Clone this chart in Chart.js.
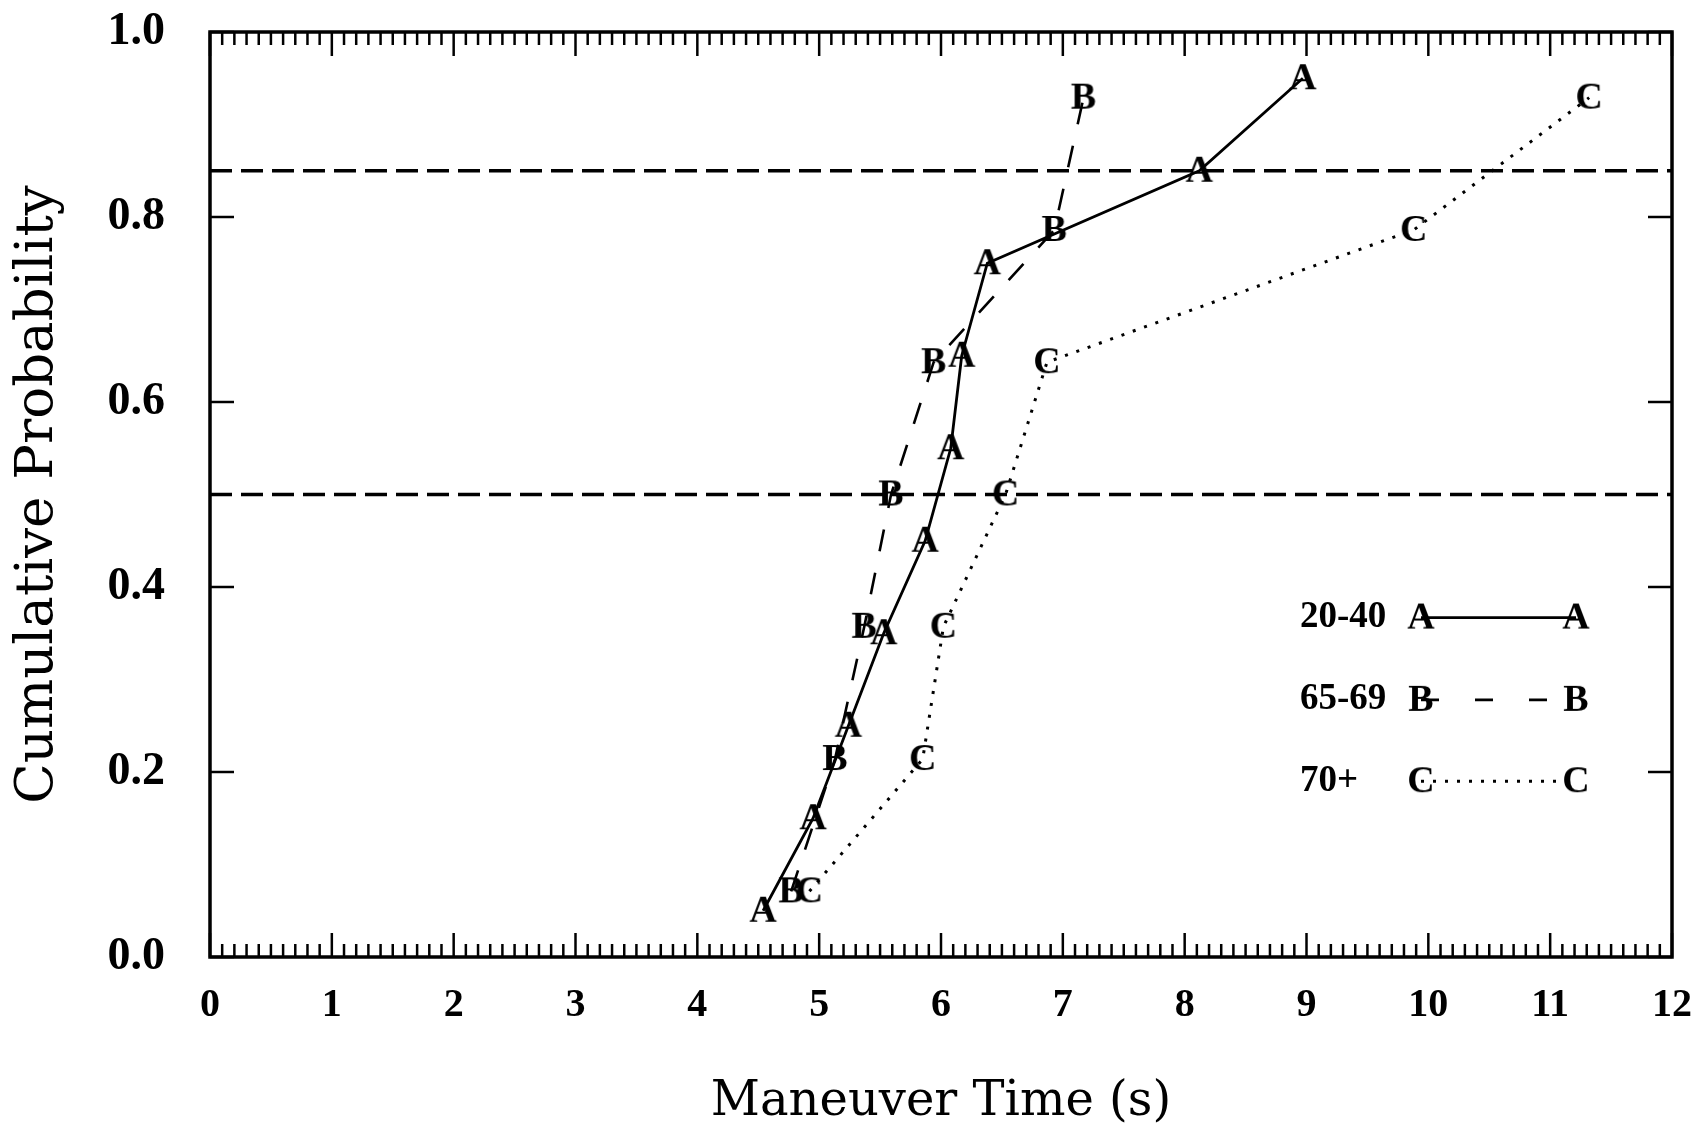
<!DOCTYPE html>
<html>
<head>
<meta charset="utf-8">
<script src="https://cdn.jsdelivr.net/npm/chart.js@4.4.1/dist/chart.umd.min.js"></script>
<style>
html,body{margin:0;padding:0;background:#fff;}
#wrap{width:1703px;height:1131px;position:relative;}
canvas{display:block;}
</style>
</head>
<body>
<div id="wrap"><canvas id="c" width="1703" height="1131"></canvas></div>
<script>
// ---- data ----
const seriesLabels = ['20-40', '65-69', '70+'];
const seriesMarkers = ['A', 'B', 'C'];

const timeA = [4.54, 4.95, 5.24, 5.53, 5.87, 6.08, 6.17, 6.38, 8.12, 8.97];
const probA = [0.05, 0.15, 0.25, 0.35, 0.45, 0.55, 0.65, 0.75, 0.85, 0.95];

const timeB = [4.77, 5.13, 5.37, 5.59, 5.94, 6.93, 7.17];
const probB = [0.071, 0.214, 0.357, 0.5, 0.643, 0.786, 0.929];

const timeC = [4.92, 5.85, 6.02, 6.53, 6.87, 9.88, 11.32];
const probC = [0.071, 0.214, 0.357, 0.5, 0.643, 0.786, 0.929];

const refLevels = [0.5, 0.85];

const xTickValues = [0, 1, 2, 3, 4, 5, 6, 7, 8, 9, 10, 11, 12];
const xTickLabels = ['0', '1', '2', '3', '4', '5', '6', '7', '8', '9', '10', '11', '12'];
const yTickValues = [0, 0.2, 0.4, 0.6, 0.8, 1.0];
const yTickLabels = ['0.0', '0.2', '0.4', '0.6', '0.8', '1.0'];
const xMinorStep = 0.1;

const xTitle = 'Maneuver Time (s)';
const yTitle = 'Cumulative Probability';

// target plot frame (pixels)
const frame = {left: 210, top: 32, right: 1672, bottom: 957};

// ---- helpers ----
function letterCanvas(ch) {
  const c = document.createElement('canvas');
  c.width = 44; c.height = 44;
  const g = c.getContext('2d');
  g.font = 'bold 38px "Liberation Serif"';
  g.textAlign = 'center';
  g.textBaseline = 'middle';
  g.fillStyle = '#000';
  g.fillText(ch, 22, 23);
  return c;
}
const markerImgs = seriesMarkers.map(letterCanvas);
const toPts = (xs, ys) => xs.map((v, i) => ({x: v, y: ys[i]}));

const seriesStyles = [
  {dash: [], width: 2.8},
  {dash: [22, 22], width: 2.6},
  {dash: [3, 9], width: 3}
];
const seriesData = [toPts(timeA, probA), toPts(timeB, probB), toPts(timeC, probC)];

const datasets = [];
refLevels.forEach(lv => {
  datasets.push({
    label: 'ref' + lv,
    data: [{x: xTickValues[0], y: lv}, {x: xTickValues[xTickValues.length - 1], y: lv}],
    showLine: true, borderColor: '#000', borderWidth: 3.5, borderDash: [22, 9],
    pointRadius: 0, fill: false, tension: 0
  });
});
seriesData.forEach((d, i) => {
  datasets.push({
    label: seriesLabels[i],
    data: d,
    showLine: true, borderColor: '#000', borderWidth: seriesStyles[i].width,
    borderDash: seriesStyles[i].dash, borderCapStyle: 'butt',
    pointStyle: markerImgs[i], pointRadius: 12, pointHoverRadius: 12,
    fill: false, tension: 0
  });
});

const framePlugin = {
  id: 'frame',
  afterDraw(chart) {
    const {ctx, chartArea: a, scales: {x, y}} = chart;
    ctx.save();
    ctx.strokeStyle = '#000';
    ctx.lineCap = 'butt';
    ctx.lineWidth = 3.5;
    ctx.strokeRect(a.left, a.top, a.right - a.left, a.bottom - a.top);
    ctx.lineWidth = 2.5;
    const line = (x1, y1, x2, y2) => { ctx.beginPath(); ctx.moveTo(x1, y1); ctx.lineTo(x2, y2); ctx.stroke(); };
    const xmin = xTickValues[0], xmax = xTickValues[xTickValues.length - 1];
    const n = Math.round((xmax - xmin) / xMinorStep);
    for (let i = 0; i <= n; i++) {
      const v = xmin + i * xMinorStep;
      const px = x.getPixelForValue(v);
      const L = (i % 10 === 0) ? 24 : 13;
      line(px, a.bottom, px, a.bottom - L);
      line(px, a.top, px, a.top + L);
    }
    yTickValues.forEach(v => {
      const py = y.getPixelForValue(v);
      line(a.left, py, a.left + 24, py);
      line(a.right, py, a.right - 24, py);
    });
    // legend
    const rows = [y.getPixelForValue(0.367), y.getPixelForValue(0.278), y.getPixelForValue(0.19)];
    const textX = a.right - 372;
    const m1 = a.right - 251, m2 = a.right - 96;
    ctx.font = 'bold 37px "Liberation Serif"';
    ctx.fillStyle = '#000';
    ctx.textAlign = 'left';
    ctx.textBaseline = 'middle';
    rows.forEach((ry, i) => {
      ctx.fillText(seriesLabels[i], textX, ry);
      ctx.setLineDash(i === 1 ? [18, 36] : seriesStyles[i].dash);
      ctx.lineWidth = seriesStyles[i].width;
      line(m1, ry, m2, ry);
      ctx.setLineDash([]);
      const img = markerImgs[i];
      ctx.drawImage(img, m1 - img.width / 2, ry - img.height / 2);
      ctx.drawImage(img, m2 - img.width / 2, ry - img.height / 2);
    });
    ctx.restore();
  }
};

const pad = {left: 0, right: 31, top: 32, bottom: 0};
const chart = new Chart(document.getElementById('c'), {
  type: 'scatter',
  data: {datasets},
  options: {
    responsive: false,
    devicePixelRatio: 1,
    animation: false,
    events: [],
    layout: {padding: pad},
    plugins: {legend: {display: false}, tooltip: {enabled: false}},
    scales: {
      x: {
        type: 'linear', min: xTickValues[0], max: xTickValues[xTickValues.length - 1],
        afterBuildTicks: s => { s.ticks = xTickValues.map(v => ({value: v})); },
        afterFit: s => { s.height = 1131 - frame.bottom; s.paddingLeft = 0; s.paddingRight = 0; },
        grid: {display: false, drawTicks: false},
        border: {display: false},
        ticks: {
          color: '#000', padding: 25, maxRotation: 0, autoSkip: false,
          font: {family: '"Liberation Serif"', size: 40, weight: 'bold'},
          callback: (v, i) => xTickLabels[i]
        },
        title: {
          display: true, text: xTitle, color: '#000',
          font: {family: '"DejaVu Serif"', size: 48, lineHeight: 1.2},
          padding: {top: 0, bottom: 0}
        }
      },
      y: {
        type: 'linear', min: yTickValues[0], max: yTickValues[yTickValues.length - 1],
        afterBuildTicks: s => { s.ticks = yTickValues.map(v => ({value: v})); },
        afterFit: s => { s.width = frame.left; s.paddingTop = 0; s.paddingBottom = 0; },
        grid: {display: false, drawTicks: false},
        border: {display: false},
        ticks: {
          color: '#000', padding: 45, autoSkip: false,
          font: {family: '"Liberation Serif"', size: 46, weight: 'bold'},
          callback: (v, i) => yTickLabels[i]
        },
        title: {
          display: true, text: yTitle, color: '#000',
          font: {family: '"DejaVu Serif"', size: 53, lineHeight: 1.2},
          padding: {top: 6, bottom: 0}
        }
      }
    }
  },
  plugins: [framePlugin]
});

// nudge the layout padding so the plot frame lands where the reference has it
for (let k = 0; k < 5; k++) {
  const a = chart.chartArea;
  const dTop = a.top - frame.top, dRight = frame.right - a.right;
  const dBottom = a.bottom - frame.bottom, dLeft = a.left - frame.left;
  if (Math.abs(dTop) < 0.5 && Math.abs(dRight) < 0.5 && Math.abs(dBottom) < 0.5 && Math.abs(dLeft) < 0.5) break;
  pad.top -= dTop; pad.right -= dRight; pad.bottom += dBottom; pad.left -= dLeft;
  chart.options.layout.padding = {left: pad.left, right: pad.right, top: pad.top, bottom: pad.bottom};
  chart.update();
}
</script>
</body>
</html>
